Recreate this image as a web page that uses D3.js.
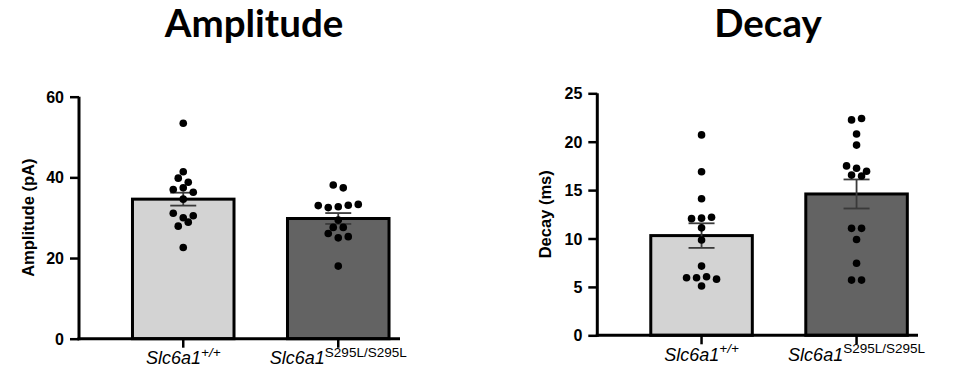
<!DOCTYPE html>
<html>
<head>
<meta charset="utf-8">
<script src="https://cdn.jsdelivr.net/npm/d3@7"></script>
<style>
  html, body { margin: 0; padding: 0; background: #fff; }
  svg { display: block; }
</style>
</head>
<body>
<svg id="chart" width="970" height="381"></svg>
<script>
// Genotype groups shown on both panels
const genotypes = ["Slc6a1", "Slc6a1"];
const genotypeSup = ["+/+", "S295L/S295L"];
const supItalic = [true, false];

// Amplitude (pA), one value per cell
const ampWT = [53.4, 41.4, 39.8, 38.8, 37.0, 37.4, 36.3, 34.6, 31.1, 30.0, 30.5, 27.9, 28.9, 22.6];
const ampMut = [38.1, 37.4, 33.0, 32.5, 32.7, 33.1, 33.3, 29.4, 27.6, 27.6, 26.1, 25.0, 25.3, 18.0];
const ampMean = [34.6, 29.8];
const ampSem = [1.6, 1.35];
const ampTicks = [0, 20, 40, 60];

// Decay (ms), one value per cell
const decWT = [20.7, 16.9, 14.1, 12.05, 12.1, 12.2, 11.1, 9.85, 7.15, 5.95, 5.95, 6.05, 5.8, 5.1];
const decMut = [22.25, 22.4, 20.8, 19.65, 17.5, 17.25, 16.95, 16.55, 16.45, 11.05, 11.05, 9.9, 7.45, 5.7, 5.7];
const decMean = [10.3, 14.6];
const decSem = [1.27, 1.5];
const decTicks = [0, 5, 10, 15, 20, 25];

const barFill = ["#d3d3d3", "#636363"];

const svg = d3.select("#chart");
svg.append("rect").attr("width", 970).attr("height", 381).attr("fill", "#fff");

const FONT = "'Liberation Sans', Arial, sans-serif";

// Arrange points of one group in rows: values closer than rowGap pixels share a row,
// and each row is spread symmetrically around the group centre.
function swarm(values, y, rowGap, spacing) {
  const idx = values.map((v, i) => i).sort((a, b) => values[b] - values[a]);
  const rows = [];
  let cur = null;
  idx.forEach(i => {
    const py = y(values[i]);
    if (cur && py - cur.start < rowGap) cur.items.push(i);
    else { cur = { start: py, items: [i] }; rows.push(cur); }
  });
  const out = [];
  rows.forEach(r => {
    const items = r.items.slice().sort((a, b) => a - b);
    const n = items.length;
    items.forEach((i, k) => out.push({ v: values[i], dx: (k - (n - 1) / 2) * spacing }));
  });
  return out;
}

function panel(cfg) {
  const g = svg.append("g");
  const y = d3.scaleLinear().domain(cfg.domain).range([cfg.y0, cfg.y1]);
  const x = d3.scaleBand().domain([0, 1]).range([cfg.x0, cfg.x0 + 363.5])
    .paddingInner(0.345).paddingOuter(0.345);

  // bars
  g.selectAll("rect.bar").data(cfg.means).join("rect")
    .attr("class", "bar")
    .attr("x", (d, i) => x(i))
    .attr("width", x.bandwidth())
    .attr("y", d => y(d))
    .attr("height", d => y(0) - y(d))
    .attr("fill", (d, i) => barFill[i])
    .attr("stroke", "#000")
    .attr("stroke-width", 3);

  // SEM error bars
  const eb = g.selectAll("g.eb").data(cfg.means).join("g").attr("class", "eb")
    .attr("stroke", "#3a3a3a").attr("stroke-width", 1.8);
  eb.append("line")
    .attr("x1", (d, i) => x(i) + x.bandwidth() / 2).attr("x2", (d, i) => x(i) + x.bandwidth() / 2)
    .attr("y1", (d, i) => y(d + cfg.sem[i])).attr("y2", (d, i) => y(d - cfg.sem[i]));
  [1, -1].forEach(s => {
    eb.append("line")
      .attr("x1", (d, i) => x(i) + x.bandwidth() / 2 - 13).attr("x2", (d, i) => x(i) + x.bandwidth() / 2 + 13)
      .attr("y1", (d, i) => y(d + s * cfg.sem[i])).attr("y2", (d, i) => y(d + s * cfg.sem[i]));
  });

  // individual points
  cfg.points.forEach((vals, i) => {
    const cx = x(i) + x.bandwidth() / 2;
    g.append("g").selectAll("circle").data(swarm(vals, y, 5.5, 10)).join("circle")
      .attr("cx", d => cx + d.dx)
      .attr("cy", d => y(d.v))
      .attr("r", 3.8)
      .attr("fill", "#000");
  });

  // y axis
  const ya = g.append("g").attr("transform", `translate(${cfg.x0},0)`)
    .call(d3.axisLeft(y).tickValues(cfg.ticks).tickSize(9).tickSizeOuter(0).tickPadding(6));
  ya.select(".domain").attr("stroke", "#000").attr("stroke-width", 3)
    .attr("d", `M0,${y(cfg.domain[1])}V${y(0) + 1.5}`);
  ya.selectAll(".tick line").attr("stroke", "#000").attr("stroke-width", 2.5);
  ya.selectAll(".tick text").attr("fill", "#000").attr("font-family", FONT)
    .attr("font-weight", "bold").attr("font-size", 16).attr("dy", "0.35em");

  // x axis
  g.append("line").attr("x1", cfg.x0 - 1.5).attr("x2", cfg.xEnd)
    .attr("y1", y(0)).attr("y2", y(0)).attr("stroke", "#000").attr("stroke-width", 3);
  g.selectAll("line.xt").data([0, 1]).join("line").attr("class", "xt")
    .attr("x1", i => x(i) + x.bandwidth() / 2).attr("x2", i => x(i) + x.bandwidth() / 2)
    .attr("y1", y(0)).attr("y2", y(0) + 9).attr("stroke", "#000").attr("stroke-width", 2.5);

  // genotype labels
  genotypes.forEach((name, i) => {
    const t = g.append("text")
      .attr("x", x(i) + x.bandwidth() / 2).attr("y", y(0) + 25.5)
      .attr("text-anchor", "middle").attr("font-family", FONT).attr("fill", "#000");
    t.append("tspan").attr("font-size", 18).attr("font-style", "italic").text(name);
    t.append("tspan").attr("font-size", 13.5).attr("dy", -7.5)
      .attr("font-style", supItalic[i] ? "italic" : "normal").text(genotypeSup[i]);
  });

  // y axis title
  g.append("text")
    .attr("transform", `translate(${cfg.labelX},${(y(cfg.domain[1]) + y(0)) / 2}) rotate(-90)`)
    .attr("text-anchor", "middle").attr("font-family", FONT).attr("font-weight", "bold")
    .attr("font-size", 16.5).attr("fill", "#000").text(cfg.label);

  // panel title
  g.append("text").attr("x", cfg.titleX).attr("y", 37)
    .attr("text-anchor", "middle").attr("font-family", "Lato, 'Open Sans', sans-serif")
    .attr("font-weight", 700).attr("font-size", 38.5).attr("fill", "#000").text(cfg.title);
}

panel({
  title: "Amplitude", titleX: 254, label: "Amplitude (pA)", labelX: 34,
  domain: [0, 60], ticks: ampTicks, y0: 338.7, y1: 96.7, x0: 79, xEnd: 400,
  means: ampMean, sem: ampSem, points: [ampWT, ampMut]
});

panel({
  title: "Decay", titleX: 768, label: "Decay (ms)", labelX: 551,
  domain: [0, 25], ticks: decTicks, y0: 335.3, y1: 93.3, x0: 597.3, xEnd: 918,
  means: decMean, sem: decSem, points: [decWT, decMut]
});
</script>
</body>
</html>
